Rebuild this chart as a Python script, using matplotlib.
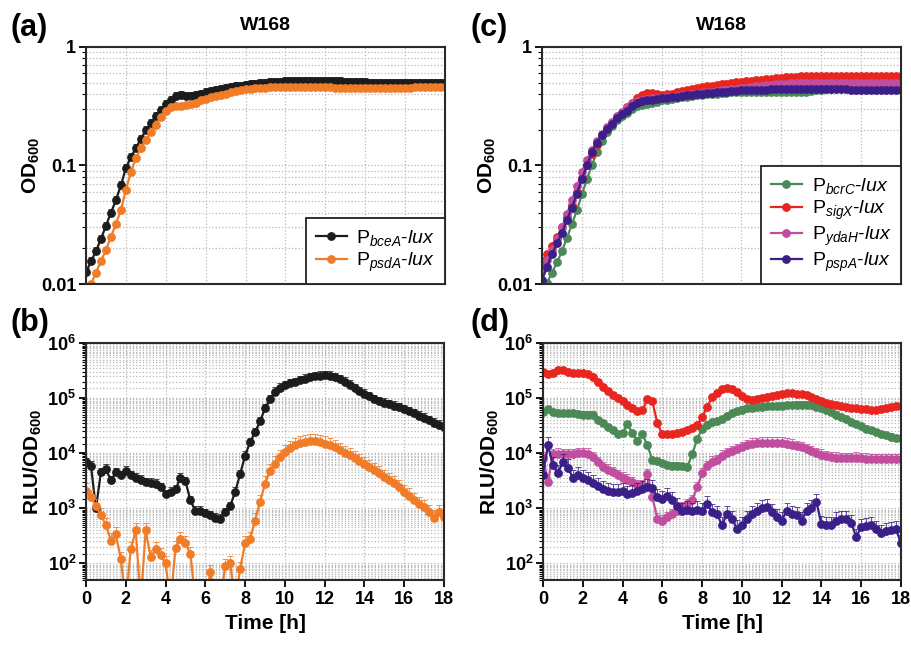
import numpy as np
import matplotlib
matplotlib.use("Agg")
import matplotlib.pyplot as plt
from matplotlib.ticker import LogLocator, NullFormatter

plt.rcParams['font.family'] = ['Liberation Sans', 'DejaVu Sans']
plt.rcParams['mathtext.fontset'] = 'custom'
plt.rcParams['mathtext.rm'] = 'Liberation Sans'
plt.rcParams['mathtext.it'] = 'Liberation Sans:italic'
plt.rcParams['mathtext.bf'] = 'Liberation Sans:bold'

# time in hours, one reading every 15 min
time_h = np.linspace(0, 18, 73)

# ---- panel (a): OD600, W168 ----
od_bceA = [0.0126, 0.0155, 0.019, 0.024,
           0.031, 0.040, 0.051, 0.068,
           0.095, 0.118, 0.140, 0.168,
           0.198, 0.228, 0.262, 0.295,
           0.33, 0.36, 0.385, 0.39,
           0.385, 0.385, 0.39, 0.40,
           0.42, 0.425, 0.43, 0.44,
           0.45, 0.46, 0.465, 0.47,
           0.48, 0.485, 0.49, 0.495,
           0.50, 0.505, 0.51, 0.51,
           0.515, 0.515, 0.52, 0.52,
           0.52, 0.52, 0.52, 0.52,
           0.52, 0.52, 0.515, 0.515,
           0.51, 0.51, 0.51, 0.505,
           0.505, 0.50, 0.50, 0.50,
           0.50, 0.50, 0.50, 0.50,
           0.50, 0.50, 0.50, 0.50,
           0.50, 0.50, 0.50, 0.50,
           0.50]
od_psdA = [0.0085, 0.0100, 0.0125, 0.0155,
           0.0195, 0.025, 0.032, 0.042,
           0.062, 0.088, 0.115, 0.14,
           0.165, 0.19, 0.22, 0.255,
           0.29, 0.31, 0.32, 0.32,
           0.325, 0.33, 0.34, 0.355,
           0.365, 0.375, 0.385, 0.395,
           0.405, 0.415, 0.425, 0.435,
           0.44, 0.445, 0.45, 0.455,
           0.455, 0.46, 0.46, 0.46,
           0.46, 0.46, 0.46, 0.46,
           0.46, 0.46, 0.46, 0.46,
           0.46, 0.46, 0.455, 0.455,
           0.455, 0.45, 0.45, 0.45,
           0.45, 0.45, 0.45, 0.45,
           0.45, 0.45, 0.455, 0.455,
           0.455, 0.455, 0.46, 0.46,
           0.46, 0.46, 0.46, 0.46,
           0.46]

# ---- panel (b): RLU/OD600 ----
rlu_bceA = [6.8e3, 5.9e3, 1.0e3, 4.5e3,
            5.2e3, 3.2e3, 4.5e3, 4.0e3,
            4.8e3, 4.0e3, 3.6e3, 3.3e3,
            3.0e3, 2.9e3, 2.8e3, 2.4e3,
            1.8e3, 2.0e3, 2.2e3, 3.6e3,
            3.1e3, 1.4e3, 9.0e2, 9.0e2,
            8.2e2, 7.5e2, 6.8e2, 6.5e2,
            8.5e2, 1.1e3, 2.0e3, 4.2e3,
            9.0e3, 1.6e4, 2.4e4, 3.8e4,
            6.5e4, 9.5e4, 1.3e5, 1.55e5,
            1.7e5, 1.85e5, 1.95e5, 2.1e5,
            2.25e5, 2.4e5, 2.5e5, 2.55e5,
            2.6e5, 2.55e5, 2.4e5, 2.2e5,
            2.0e5, 1.75e5, 1.5e5, 1.35e5,
            1.2e5, 1.08e5, 9.6e4, 8.9e4,
            8.2e4, 7.7e4, 7.3e4, 6.8e4,
            6.3e4, 5.8e4, 5.3e4, 4.8e4,
            4.4e4, 4.0e4, 3.6e4, 3.3e4,
            3.0e4]
rlu_psdA = [2.1e3, 1.6e3, 1.1e3, 7.5e2,
            5.0e2, 2.6e2, 3.4e2, 1.2e2,
            20, 1.8e2, 4.0e2, 20,
            4.0e2, 1.3e2, 1.8e2, 1.4e2,
            1.0e2, 20, 1.9e2, 2.8e2,
            2.3e2, 1.5e2, 20, 20,
            20, 70, 20, 20,
            90, 1.0e2, 20, 80,
            2.3e2, 2.8e2, 6.0e2, 1.3e3,
            2.8e3, 4.8e3, 6.5e3, 8.5e3,
            1.05e4, 1.25e4, 1.4e4, 1.52e4,
            1.6e4, 1.66e4, 1.65e4, 1.6e4,
            1.5e4, 1.4e4, 1.28e4, 1.15e4,
            1.0e4, 9.2e3, 8.2e3, 7.2e3,
            6.3e3, 5.6e3, 5.0e3, 4.3e3,
            3.7e3, 3.3e3, 2.9e3, 2.4e3,
            2.0e3, 1.7e3, 1.4e3, 1.2e3,
            1.05e3, 8.5e2, 6.8e2, 8.5e2,
            7.0e2]

# ---- panel (c): OD600 ----
od_bcrC = [0.0085, 0.0102, 0.0125, 0.0152,
           0.019, 0.0245, 0.032, 0.042,
           0.057, 0.077, 0.10, 0.13,
           0.16, 0.19, 0.215, 0.24,
           0.26, 0.28, 0.30, 0.315,
           0.325, 0.33, 0.335, 0.345,
           0.355, 0.36, 0.365, 0.37,
           0.375, 0.38, 0.385, 0.39,
           0.395, 0.40, 0.40, 0.405,
           0.41, 0.41, 0.415, 0.415,
           0.42, 0.42, 0.42, 0.42,
           0.42, 0.42, 0.42, 0.42,
           0.42, 0.42, 0.42, 0.42,
           0.42, 0.42, 0.425, 0.43,
           0.435, 0.44, 0.445, 0.45,
           0.45, 0.45, 0.45, 0.45,
           0.45, 0.45, 0.45, 0.45,
           0.45, 0.45, 0.45, 0.45,
           0.45]
od_sigX = [0.0155, 0.018, 0.021, 0.025,
           0.030, 0.037, 0.046, 0.060,
           0.078, 0.10, 0.125, 0.15,
           0.18, 0.205, 0.23, 0.255,
           0.28, 0.31, 0.34, 0.37,
           0.395, 0.41, 0.41, 0.40,
           0.395, 0.40, 0.405, 0.415,
           0.425, 0.43, 0.44, 0.45,
           0.46, 0.465, 0.47, 0.48,
           0.485, 0.49, 0.50, 0.505,
           0.51, 0.515, 0.52, 0.525,
           0.53, 0.535, 0.54, 0.545,
           0.55, 0.555, 0.56, 0.56,
           0.565, 0.565, 0.57, 0.57,
           0.57, 0.57, 0.57, 0.57,
           0.57, 0.57, 0.57, 0.57,
           0.57, 0.57, 0.57, 0.57,
           0.57, 0.57, 0.57, 0.57,
           0.57]
od_ydaH = [0.013, 0.016, 0.0195, 0.024,
           0.030, 0.039, 0.051, 0.067,
           0.088, 0.112, 0.135, 0.16,
           0.185, 0.21, 0.235, 0.26,
           0.285, 0.31, 0.33, 0.35,
           0.36, 0.365, 0.37, 0.37,
           0.37, 0.375, 0.38, 0.385,
           0.39, 0.395, 0.40, 0.405,
           0.41, 0.415, 0.42, 0.425,
           0.43, 0.435, 0.44, 0.445,
           0.45, 0.455, 0.46, 0.465,
           0.47, 0.475, 0.48, 0.485,
           0.49, 0.49, 0.495, 0.495,
           0.50, 0.50, 0.50, 0.50,
           0.50, 0.50, 0.50, 0.50,
           0.50, 0.50, 0.50, 0.50,
           0.50, 0.50, 0.50, 0.50,
           0.50, 0.50, 0.50, 0.50,
           0.50]
od_pspA = [0.0108, 0.014, 0.018, 0.022,
           0.027, 0.035, 0.044, 0.058,
           0.077, 0.10, 0.13, 0.155,
           0.18, 0.205, 0.225, 0.25,
           0.27, 0.29, 0.315, 0.335,
           0.35, 0.355, 0.36, 0.365,
           0.37, 0.37, 0.375, 0.38,
           0.385, 0.39, 0.395, 0.40,
           0.405, 0.41, 0.41, 0.415,
           0.42, 0.42, 0.425, 0.425,
           0.43, 0.43, 0.43, 0.435,
           0.435, 0.435, 0.44, 0.44,
           0.44, 0.44, 0.44, 0.445,
           0.445, 0.445, 0.445, 0.445,
           0.445, 0.44, 0.44, 0.44,
           0.44, 0.44, 0.435, 0.435,
           0.435, 0.435, 0.435, 0.435,
           0.435, 0.435, 0.435, 0.435,
           0.435]

# ---- panel (d): RLU/OD600 ----
rlu_bcrC = [5.7e4, 6.3e4, 5.6e4, 5.4e4,
            5.4e4, 5.4e4, 5.3e4, 5.1e4,
            5.0e4, 5.0e4, 5.0e4, 4.0e4,
            3.5e4, 3.0e4, 2.6e4, 2.2e4,
            2.3e4, 3.4e4, 2.3e4, 1.7e4,
            2.2e4, 1.4e4, 7.5e3, 7.2e3,
            6.6e3, 6.0e3, 5.9e3, 5.9e3,
            5.8e3, 5.6e3, 9.5e3, 1.8e4,
            2.8e4, 3.3e4, 3.7e4, 3.8e4,
            4.2e4, 4.7e4, 5.3e4, 5.8e4,
            6.2e4, 6.5e4, 6.7e4, 6.9e4,
            7.0e4, 7.1e4, 7.2e4, 7.2e4,
            7.3e4, 7.4e4, 7.5e4, 7.6e4,
            7.6e4, 7.6e4, 7.4e4, 7.0e4,
            6.6e4, 6.2e4, 5.6e4, 5.0e4,
            4.5e4, 4.1e4, 3.7e4, 3.4e4,
            3.1e4, 2.8e4, 2.6e4, 2.4e4,
            2.2e4, 2.1e4, 2.0e4, 1.9e4,
            1.85e4]
rlu_sigX = [3.0e5, 2.7e5, 2.9e5, 3.3e5,
            3.2e5, 2.95e5, 2.9e5, 2.9e5,
            2.85e5, 2.7e5, 2.4e5, 2.0e5,
            1.6e5, 1.35e5, 1.15e5, 1.0e5,
            8.7e4, 7.6e4, 6.7e4, 5.9e4,
            6.0e4, 9.5e4, 8.8e4, 3.5e4,
            2.2e4, 2.2e4, 2.25e4, 2.3e4,
            2.45e4, 2.6e4, 2.9e4, 3.3e4,
            4.5e4, 6.8e4, 1.05e5, 1.25e5,
            1.45e5, 1.52e5, 1.45e5, 1.28e5,
            1.08e5, 9.6e4, 9.3e4, 9.5e4,
            1.0e5, 1.05e5, 1.1e5, 1.15e5,
            1.2e5, 1.22e5, 1.22e5, 1.2e5,
            1.18e5, 1.14e5, 1.05e5, 9.8e4,
            9.0e4, 8.3e4, 7.8e4, 7.4e4,
            7.1e4, 6.9e4, 6.7e4, 6.5e4,
            6.4e4, 6.3e4, 6.2e4, 6.2e4,
            6.4e4, 6.7e4, 7.0e4, 7.2e4,
            7.1e4]
rlu_ydaH = [8.3e3, 3.0e3, 9.5e3, 9.8e3,
            9.6e3, 9.5e3, 9.7e3, 1.0e4,
            1.0e4, 9.8e3, 8.5e3, 6.8e3,
            5.6e3, 5.0e3, 4.5e3, 4.0e3,
            3.6e3, 3.3e3, 3.0e3, 2.6e3,
            2.6e3, 4.2e3, 1.6e3, 6.5e2,
            6.0e2, 7.0e2, 7.8e2, 9.0e2,
            1.05e3, 1.2e3, 1.4e3, 2.4e3,
            4.3e3, 5.8e3, 7.0e3, 7.5e3,
            9.0e3, 1.0e4, 1.1e4, 1.2e4,
            1.3e4, 1.4e4, 1.48e4, 1.52e4,
            1.55e4, 1.56e4, 1.56e4, 1.56e4,
            1.55e4, 1.5e4, 1.42e4, 1.35e4,
            1.27e4, 1.18e4, 1.1e4, 1.0e4,
            9.4e3, 8.9e3, 8.5e3, 8.3e3,
            8.1e3, 8.1e3, 8.2e3, 8.3e3,
            8.2e3, 8.0e3, 7.9e3, 7.8e3,
            7.8e3, 7.9e3, 7.8e3, 7.8e3,
            7.8e3]
rlu_pspA = [4.1e3, 1.4e4, 6.0e3, 4.4e3,
            6.8e3, 5.5e3, 3.6e3, 4.0e3,
            3.6e3, 3.3e3, 2.9e3, 2.5e3,
            2.2e3, 2.1e3, 1.95e3, 2.0e3,
            2.05e3, 1.8e3, 1.9e3, 2.1e3,
            2.2e3, 2.4e3, 2.3e3, 1.6e3,
            1.5e3, 1.7e3, 1.4e3, 1.1e3,
            9.0e2, 9.5e2, 9.0e2, 9.5e2,
            9.0e2, 1.2e3, 8.5e2, 8.0e2,
            4.9e2, 8.0e2, 6.5e2, 4.3e2,
            5.0e2, 6.5e2, 8.0e2, 9.0e2,
            1.0e3, 1.05e3, 8.5e2, 7.0e2,
            6.0e2, 9.0e2, 8.0e2, 7.5e2,
            6.0e2, 9.0e2, 1.0e3, 1.3e3,
            5.2e2, 5.0e2, 4.9e2, 6.0e2,
            6.3e2, 6.5e2, 5.5e2, 3.0e2,
            4.6e2, 4.8e2, 4.9e2, 4.2e2,
            3.5e2, 3.8e2, 4.0e2, 4.2e2,
            2.3e2]

# relative upper error (SD) per strain
err_a = {'bceA': 0.08, 'psdA': 0.03}
err_b = {'bceA': 0.20, 'psdA': 0.35}
err_c = {'bcrC': 0.04, 'sigX': 0.04, 'ydaH': 0.05, 'pspA': 0.04}
err_d = {'bcrC': 0.15, 'sigX': 0.12, 'ydaH': 0.25, 'pspA': 0.40}

colors = {'bceA': '#1c1c1c', 'psdA': '#f07c28', 'bcrC': '#4b8a56',
          'sigX': '#e8261f', 'ydaH': '#c14d9f', 'pspA': '#3a1f88'}

od_ticks = [0.01, 0.1, 1]
od_ticklabels = ['0.01', '0.1', '1']
rlu_ticks = [1e2, 1e3, 1e4, 1e5, 1e6]
rlu_ticklabels = ['10$^{\\mathbf{2}}$', '10$^{\\mathbf{3}}$', '10$^{\\mathbf{4}}$',
                  '10$^{\\mathbf{5}}$', '10$^{\\mathbf{6}}$']
hour_ticks = [0, 2, 4, 6, 8, 10, 12, 14, 16, 18]


def label(gene):
    return 'P$_{\\mathit{' + gene + '}}$-$\\mathit{lux}$'


def draw(ax, gene, values, frac):
    y = np.array(values)
    c = colors[gene]
    ax.errorbar(time_h, y, yerr=[np.zeros_like(y), y * frac], fmt='none',
                ecolor=c, elinewidth=0.7, capsize=2.2, capthick=0.7, alpha=0.8)
    ax.plot(time_h, y, '-o', color=c, ms=5.3, lw=1.6, label=label(gene))


def style(ax, bottom):
    ax.set_yscale('log')
    ax.set_xlim(0, 18)
    ax.set_xticks(hour_ticks)
    gridkw = dict(ls=':', color='#b8b8b8', lw=0.9)
    ax.grid(True, which='major', axis='x', **gridkw)
    ax.grid(True, which='both', axis='y', **gridkw)
    ax.set_axisbelow(True)
    for s in ax.spines.values():
        s.set_linewidth(1.5)
        s.set_color('#2a2a2a')
    if bottom:
        ax.set_ylim(50, 1e6)
        ax.set_yticks(rlu_ticks, rlu_ticklabels, fontsize=13, fontweight='bold')
        ax.yaxis.set_minor_locator(LogLocator(base=10, subs=np.arange(1.5, 10, 0.5), numticks=20))
        ax.set_xticklabels([str(h) for h in hour_ticks], fontsize=13, fontweight='bold')
        ax.set_xlabel('Time [h]', fontsize=15, fontweight='bold', labelpad=4)
        ax.set_ylabel('RLU/OD$_{\\mathbf{600}}$', fontsize=15, fontweight='bold', labelpad=2)
        ax.tick_params(axis='x', length=5, width=1.3, pad=3)
    else:
        ax.set_ylim(0.01, 1)
        ax.set_yticks(od_ticks, od_ticklabels, fontsize=13, fontweight='bold')
        ax.yaxis.set_minor_locator(LogLocator(base=10, subs=np.arange(2, 10), numticks=20))
        ax.tick_params(axis='x', labelbottom=False, length=0)
        ax.set_ylabel('OD$_{\\mathbf{600}}$', fontsize=15, fontweight='bold', labelpad=-1)
        ax.set_title('W168', fontsize=14, fontweight='bold', pad=12)
    ax.yaxis.set_minor_formatter(NullFormatter())
    ax.tick_params(axis='y', which='major', length=5, width=1.3, pad=2)
    ax.tick_params(axis='y', which='minor', length=3, width=0.8)


def legend(ax):
    leg = ax.legend(loc='lower right', fontsize=14, frameon=True, fancybox=False,
                    edgecolor='#222222', framealpha=1, borderaxespad=0,
                    handlelength=1.6, handletextpad=0.5, labelspacing=0.15,
                    borderpad=0.5)
    leg.get_frame().set_linewidth(1.3)


fig = plt.figure(figsize=(9.11, 6.49), dpi=100)
ax_a = fig.add_axes([0.0944, 0.5624, 0.394, 0.3652])
ax_b = fig.add_axes([0.0944, 0.1063, 0.393, 0.3652])
ax_c = fig.add_axes([0.595, 0.5624, 0.394, 0.3652])
ax_d = fig.add_axes([0.596, 0.1063, 0.393, 0.3652])

draw(ax_a, 'bceA', od_bceA, err_a['bceA'])
draw(ax_a, 'psdA', od_psdA, err_a['psdA'])
style(ax_a, False)
legend(ax_a)

draw(ax_b, 'bceA', rlu_bceA, err_b['bceA'])
draw(ax_b, 'psdA', rlu_psdA, err_b['psdA'])
style(ax_b, True)

for gene, vals in [('bcrC', od_bcrC), ('sigX', od_sigX), ('ydaH', od_ydaH), ('pspA', od_pspA)]:
    draw(ax_c, gene, vals, err_c[gene])
style(ax_c, False)
legend(ax_c)

for gene, vals in [('bcrC', rlu_bcrC), ('sigX', rlu_sigX), ('ydaH', rlu_ydaH), ('pspA', rlu_pspA)]:
    draw(ax_d, gene, vals, err_d[gene])
style(ax_d, True)

for txt, x, y in [('(a)', 0.012, 0.957), ('(b)', 0.012, 0.503),
                  ('(c)', 0.517, 0.957), ('(d)', 0.517, 0.503)]:
    fig.text(x, y, txt, fontsize=22, fontweight='bold', ha='left', va='center')

fig.savefig('out.png', dpi=100, facecolor='white')
